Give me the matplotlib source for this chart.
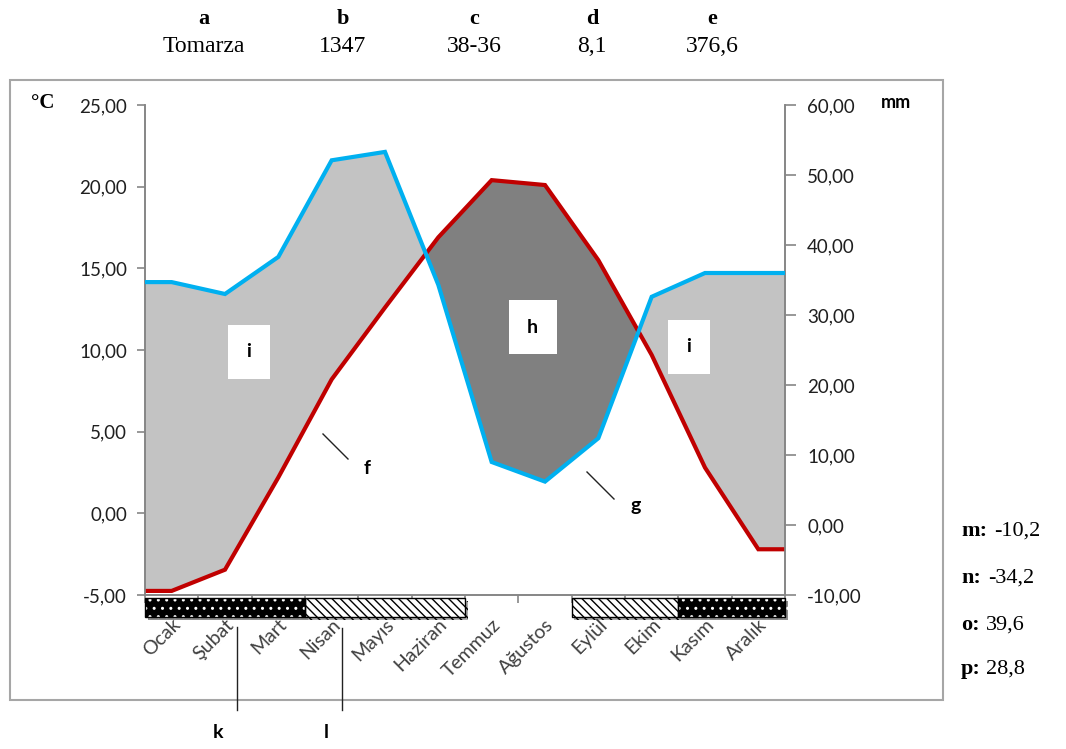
import matplotlib
matplotlib.use("Agg")
import matplotlib.pyplot as plt
import matplotlib.patheffects as pe
from matplotlib.patches import Rectangle
from matplotlib.lines import Line2D
import matplotlib.transforms as mtrans
import numpy as np

plt.rcParams['font.family'] = ['Lato', 'DejaVu Sans']

months = ['Ocak', 'Şubat', 'Mart', 'Nisan', 'Mayıs', 'Haziran',
          'Temmuz', 'Ağustos', 'Eylül', 'Ekim', 'Kasım', 'Aralık']
temp = [-4.75, -3.45, 2.2, 8.2, 12.6, 16.9, 20.4, 20.1, 15.5, 9.7, 2.8, -2.2]
rain = [34.7, 33.0, 38.3, 52.1, 53.3, 34.3, 9.0, 6.2, 12.4, 32.6, 36.0, 36.0]
# don durumu: 2 = kesin don, 1 = olası don, 0 = don yok
frost = [2, 2, 2, 1, 1, 1, 0, 0, 1, 1, 2, 2]

header_keys = ['a', 'b', 'c', 'd', 'e']
header_vals = ['Tomarza', '1347', '38-36', '8,1', '376,6']
side_keys = ['m:', 'n:', 'o:', 'p:']
side_vals = ['-10,2', '-34,2', '39,6', '28,8']

RED = '#C00000'
BLUE = '#00B0F0'
GREY = '#868686'
TXT = '#1f1f1f'

fig = plt.figure(figsize=(10.66, 7.49), dpi=100)
ax = fig.add_axes([145/1066, 154/749, 640/1066, 490/749])
ax2 = ax.twinx()

t_lo, t_hi = -5, 25
p_lo, p_hi = -10, 60
ax.set_ylim(t_lo, t_hi)
ax2.set_ylim(p_lo, p_hi)
ax.set_xlim(0, 12)

# lines run edge to edge: first/last month value held to the axis border
xs = np.concatenate([[0], np.arange(12) + 0.5, [12]])
t_line = np.concatenate([[temp[0]], temp, [temp[-1]]])
p_line = np.concatenate([[rain[0]], rain, [rain[-1]]])
# precipitation expressed in temperature units for the fills
p_eq = (p_line - p_lo) * (t_hi - t_lo) / (p_hi - p_lo) + t_lo

xf = np.linspace(0, 12, 1201)
tf = np.interp(xf, xs, t_line)
pf = np.interp(xf, xs, p_eq)
ax.fill_between(xf, tf, pf, where=pf >= tf, color='#C3C3C3', lw=0, interpolate=True)
ax.fill_between(xf, tf, pf, where=pf < tf, color='#808080', lw=0, interpolate=True)

ax.plot(xs, t_line, color=RED, lw=3, solid_joinstyle='miter', zorder=4)
ax2.plot(xs, p_line, color=BLUE, lw=3, solid_joinstyle='miter', zorder=4)

# spines & ticks
for a in (ax, ax2):
    a.spines['top'].set_visible(False)
    for s in ('left', 'right', 'bottom'):
        a.spines[s].set_color(GREY)
        a.spines[s].set_linewidth(1.2)
ax.set_yticks(np.arange(-5, 26, 5))
ax.set_yticklabels([f"{v:.2f}".replace('.', ',') for v in np.arange(-5, 26, 5)])
ax2.set_yticks(np.arange(-10, 61, 10))
ax2.set_yticklabels([f"{v:.2f}".replace('.', ',') for v in np.arange(-10, 61, 10)])
ax.tick_params(axis='y', length=6, width=1.2, color=GREY, pad=7, labelsize=13.5, labelcolor=TXT)
ax2.tick_params(axis='y', length=8, width=1.2, color=GREY, pad=8, labelsize=13.5, labelcolor=TXT)

ax.set_xticks(np.arange(12) + 0.5)
ax.set_xticklabels(months, rotation=45, ha='right', rotation_mode='anchor')
ax.set_xticks(np.arange(13), minor=True)
ax.tick_params(axis='x', which='major', length=0, pad=15, labelsize=14, labelcolor='#404040')
ax.tick_params(axis='x', which='minor', length=6, width=1.2, color=GREY)

# frost strip under the axis
blend = mtrans.blended_transform_factory(ax.transData, ax.transAxes)
shadow = [pe.SimplePatchShadow(offset=(2, -2), alpha=0.45), pe.Normal()]
runs = []
start = 0
for i in range(1, 13):
    if i == 12 or frost[i] != frost[start]:
        runs.append((start, i, frost[start]))
        start = i
for s0, s1, kind in runs:
    if kind == 0:
        continue
    if kind == 2:
        r = Rectangle((s0, -0.045), s1 - s0, 0.039, transform=blend, clip_on=False,
                      facecolor='black', edgecolor='white', hatch='..', lw=0, zorder=5,
                      path_effects=shadow)
    else:
        r = Rectangle((s0, -0.045), s1 - s0, 0.039, transform=blend, clip_on=False,
                      facecolor='white', edgecolor='black', hatch='\\\\\\\\', lw=0, zorder=5,
                      path_effects=shadow)
    ax.add_patch(r)
    ax.add_patch(Rectangle((s0, -0.045), s1 - s0, 0.039, transform=blend, clip_on=False,
                           facecolor='none', edgecolor='black', lw=1, zorder=6))

# labels inside the plot
box = dict(boxstyle='square,pad=0.95', facecolor='white', edgecolor='none')
ax.text(1.95, 9.9, 'i', fontsize=14, fontweight='bold', ha='center', va='center', bbox=box, zorder=7)
ax.text(10.2, 10.2, 'i', fontsize=14, fontweight='bold', ha='center', va='center', bbox=box, zorder=7)
ax.text(7.27, 11.4, 'h', fontsize=14, fontweight='bold', ha='center', va='center', bbox=box, zorder=7)

def figline(x0, y0, x1, y1, lw=1.0):
    fig.add_artist(Line2D([x0/1066, x1/1066], [1 - y0/749, 1 - y1/749],
                          transform=fig.transFigure, color='#222222', lw=lw))

figline(323, 434, 348, 459)
fig.text(367/1066, 1 - 468/749, 'f', fontsize=14, fontweight='bold', ha='center', va='center')
figline(587, 472, 614, 499)
fig.text(636/1066, 1 - 506/749, 'g', fontsize=14, fontweight='bold', ha='center', va='center')

figline(237, 627, 237, 710)
figline(342, 628, 342, 710)
fig.text(218/1066, 1 - 733/749, 'k', fontsize=14, fontweight='bold', ha='center', va='center')
fig.text(326/1066, 1 - 733/749, 'l', fontsize=14, fontweight='bold', ha='center', va='center')

# units
fig.text(43/1066, 1 - 103/749, '°C', fontsize=15, fontweight='bold', ha='center', va='center',
         family='Liberation Serif')
fig.text(896/1066, 1 - 103/749, 'mm', fontsize=13, fontweight='bold', ha='center', va='center')

# header
hx = [204, 343, 474, 592, 712]
for x, k, v in zip(hx, header_keys, header_vals):
    fig.text(x/1066, 1 - 19/749, k, fontsize=16, fontweight='bold', ha='center', va='center',
             family='Liberation Serif')
    fig.text(x/1066, 1 - 46/749, v, fontsize=17, ha='center', va='center',
             family='Liberation Serif')

# side notes
sy = [531, 578, 625, 669]
vx = [994, 988, 986, 986]
for y, x, k, v in zip(sy, vx, side_keys, side_vals):
    fig.text(961/1066, 1 - y/749, k, fontsize=16, fontweight='bold', ha='left', va='center',
             family='Liberation Serif')
    fig.text(x/1066, 1 - y/749, v, fontsize=16, ha='left', va='center',
             family='Liberation Serif')

# outer frame
fig.add_artist(Rectangle((10/1066, 49/749), 933/1066, 620/749, transform=fig.transFigure,
                         facecolor='none', edgecolor='#A6A6A6', lw=1.5))

fig.savefig('out.png', dpi=100)
